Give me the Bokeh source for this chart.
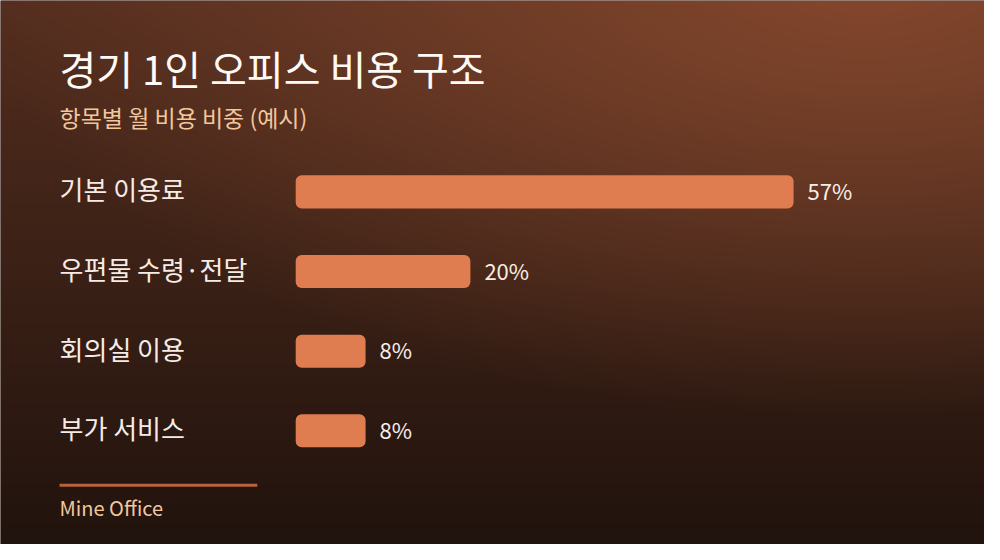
import numpy as np
from bokeh.plotting import figure
from bokeh.models import Range1d, Label, BoxAnnotation, ColumnDataSource
from bokeh.core.properties import value
from bokeh.embed import file_html
from bokeh.resources import INLINE

# ---- data ----
categories = ["기본 이용료", "우편물 수령·전달", "회의실 이용", "부가 서비스"]
shares = [57, 20, 8, 8]
share_labels = ["57%", "20%", "8%", "8%"]
title_text = "경기 1인 오피스 비용 구조"
subtitle_text = "항목별 월 비용 비중 (예시)"
footer_text = "Mine Office"

# ---- layout (reference 1000x560 scaled into 984x544) ----
W, H = 984, 544
KX, KY = W / 1000.0, H / 560.0
PX_PER_UNIT = 506 / 57.0 * KX
BAR_LEFT_PX = 300 * KX
ROW_PX = 82 * KY
FIRST_ROW_PX = 197 * KY
LAST_ROW_PX = 443 * KY
LEFT_PX = 60 * KX

x0 = -BAR_LEFT_PX / PX_PER_UNIT
x1 = (W - BAR_LEFT_PX) / PX_PER_UNIT
n = len(categories)
ypos = [n - 1 - i for i in range(n)]
top_units = FIRST_ROW_PX / ROW_PX
bot_units = (H - LAST_ROW_PX) / ROW_PX
y0 = 0 - bot_units
y1 = (n - 1) + top_units

FONT = "Noto Sans CJK KR"

p = figure(width=W, height=H, x_range=Range1d(x0, x1), y_range=Range1d(y0, y1),
           output_backend="svg", toolbar_location=None, min_border=0,
           x_axis_location=None, y_axis_location=None)
p.grid.visible = False
p.outline_line_color = None
p.background_fill_color = "#3a2016"
p.border_fill_color = "#3a2016"

# ---- background gradient ----
rows = np.arange(H)[:, None]
cols = np.arange(W)[None, :]
sy = ((H - 1 - rows) / KY)  # reference pixel y, row 0 at bottom
sx = cols / KX
t = np.clip(sy / 560.0, 0, 1)
top_c = np.array([84, 46, 31], float)
bot_c = np.array([33, 19, 13], float)
base = top_c[None, None, :] * (1 - t[..., None]) + bot_c[None, None, :] * t[..., None]
r = np.sqrt(((sx - 880.0) / 900.0) ** 2 + ((sy + 20.0) / 450.0) ** 2)
w = np.clip(1 - r, 0, 1)
hi = np.array([132, 71, 45], float)
col = base * (1 - w[..., None]) + hi[None, None, :] * w[..., None]
col = np.clip(col, 0, 255).astype(np.uint32)
img = (255 << 24) | (col[..., 2] << 16) | (col[..., 1] << 8) | col[..., 0]
img = img.astype(np.uint32)
p.image_rgba(image=[img], x=x0, y=y0, dw=x1 - x0, dh=y1 - y0)

src = ColumnDataSource(dict(y=ypos, v=shares, cat=categories, lab=share_labels,
                            xl=[x0] * n))

p.hbar(y="y", left=0, right="v", height=34 * KY / ROW_PX, source=src,
       fill_color="#df7d50", line_color=None, border_radius=6)

p.text(x="v", y="y", text="lab", source=src, x_offset=14, y_offset=-2,
       text_baseline="middle", text_align="left",
       text_font=value(FONT), text_font_size="22px", text_color="#f8eee7")

p.text(x="xl", y="y", text="cat", source=src, x_offset=LEFT_PX, y_offset=-3,
       text_baseline="middle", text_align="left",
       text_font=value(FONT), text_font_size="26px", text_color="#f6ece5")

p.add_layout(Label(x=LEFT_PX, y=H - 69 * KY, x_units="screen", y_units="screen",
                   text=title_text, text_font=FONT, text_font_size="40px",
                   text_color="#fffaf5", text_baseline="middle"))
p.add_layout(Label(x=LEFT_PX, y=H - 120 * KY, x_units="screen", y_units="screen",
                   text=subtitle_text, text_font=FONT, text_font_size="23px",
                   text_color="#f3c79c", text_baseline="middle"))
p.add_layout(BoxAnnotation(left=LEFT_PX, right=261 * KX,
                           bottom=H - 500.5 * KY, top=H - 497.5 * KY,
                           left_units="screen", right_units="screen",
                           bottom_units="screen", top_units="screen",
                           fill_color="#b8633b", fill_alpha=1, line_color=None))
p.add_layout(Label(x=LEFT_PX, y=H - 522 * KY, x_units="screen", y_units="screen",
                   text=footer_text, text_font=FONT, text_font_size="20px",
                   text_color="#f3c79c", text_baseline="middle"))

open("out.html", "w").write(file_html(p, INLINE))
